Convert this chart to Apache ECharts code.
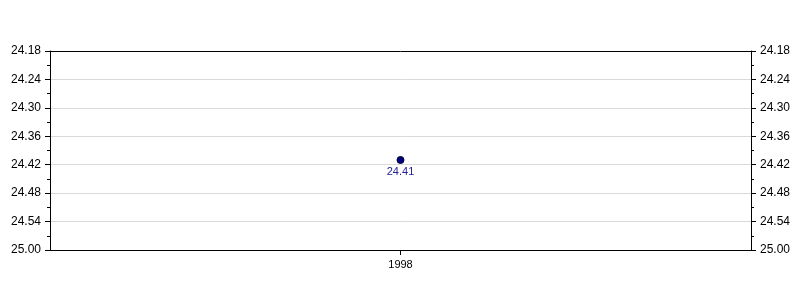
<!DOCTYPE html>
<html>
<head>
<meta charset="utf-8">
<script src="https://cdn.jsdelivr.net/npm/echarts@6/dist/echarts.min.js"></script>
<style>html,body{margin:0;padding:0;background:#fff;}#c{width:800px;height:300px;}</style>
</head>
<body>
<div id="c"></div>
<script>
var categories = ["1998"];
var values = [24.41];
var tickValues = [24.18, 24.24, 24.30, 24.36, 24.42, 24.48, 24.54, 24.60];
var tickLabels = ["24.18", "24.24", "24.30", "24.36", "24.42", "24.48", "24.54", "25.00"];

function fmt(v) {
  for (var i = 0; i < tickValues.length; i++) {
    if (Math.abs(v - tickValues[i]) < 1e-6) return tickLabels[i];
  }
  return '';
}
var font = 'Arial, Liberation Sans, sans-serif';
function yAx(pos) {
  return {
    type: 'value', position: pos, inverse: true,
    min: 24.18, max: 24.60, interval: 0.06,
    axisLine: { show: true, lineStyle: { color: '#000', width: 1 } },
    axisTick: { show: true, length: 5, lineStyle: { color: '#000' } },
    minorTick: { show: true, splitNumber: 2, length: 3, lineStyle: { color: '#000' } },
    splitLine: { show: pos === 'left', lineStyle: { color: '#d9d9d9', width: 1 } },
    axisLabel: { color: '#000', fontFamily: font, fontSize: 12, margin: 9, formatter: fmt }
  };
}
var chart = echarts.init(document.getElementById('c'), null, { renderer: 'canvas' });
chart.setOption({
  animation: false,
  backgroundColor: '#fff',
  grid: { left: 50, right: 49, top: 51, bottom: 50 },
  xAxis: [{
    type: 'category', data: categories, boundaryGap: true, position: 'bottom',
    axisLine: { show: true, lineStyle: { color: '#000' } },
    axisTick: { show: true, length: 5, alignWithLabel: true, lineStyle: { color: '#000' } },
    axisLabel: { color: '#000', fontFamily: font, fontSize: 11, margin: 9 },
    splitLine: { show: false }
  }, {
    type: 'category', data: categories, boundaryGap: true, position: 'top',
    axisLine: { show: true, lineStyle: { color: '#000' } },
    axisTick: { show: false },
    axisLabel: { show: false },
    splitLine: { show: false }
  }],
  yAxis: [yAx('left'), yAx('right')],
  series: [{
    type: 'line', data: values, yAxisIndex: 0, xAxisIndex: 0,
    symbol: 'circle', symbolSize: 7,
    itemStyle: { color: '#000080', borderColor: '#000033', borderWidth: 1 },
    lineStyle: { color: '#000080' },
    label: { show: true, position: 'bottom', distance: 2, color: '#22229a', fontFamily: font, fontSize: 11, formatter: function (p) { return p.value.toFixed(2); } }
  }]
});
</script>
</body>
</html>
